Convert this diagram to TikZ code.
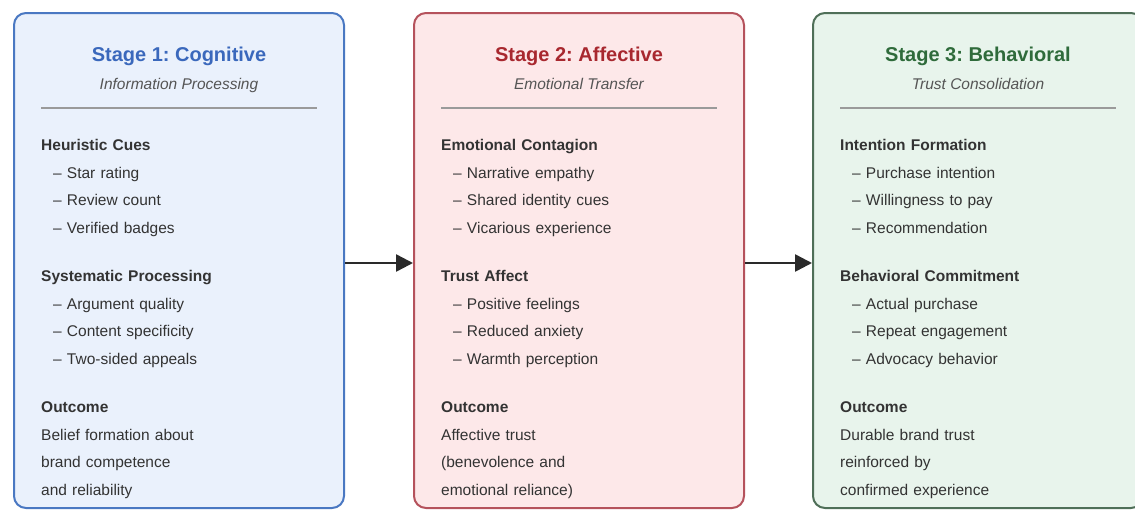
\documentclass[tikz,border=0pt]{standalone}
\usepackage{fontspec}
\setmainfont{Liberation Sans}
\usepackage{tikz}
\usetikzlibrary{arrows.meta,positioning}
\frenchspacing

\definecolor{cogline}{HTML}{4A78C2}
\definecolor{cogfill}{HTML}{EAF1FC}
\definecolor{cogtitle}{HTML}{3A68BC}
\definecolor{affline}{HTML}{B5525C}
\definecolor{afffill}{HTML}{FDE8E9}
\definecolor{afftitle}{HTML}{A8282F}
\definecolor{behline}{HTML}{4F6F58}
\definecolor{behfill}{HTML}{E8F4EC}
\definecolor{behtitle}{HTML}{2F6B3B}
\definecolor{bodygray}{HTML}{333333}
\definecolor{subgray}{HTML}{555555}
\definecolor{rulegray}{HTML}{9A9A9A}
\definecolor{arrowgray}{HTML}{2A2A2A}

\newcommand{\itm}{\hspace*{12pt}– }

\begin{document}
\begin{tikzpicture}[x=1pt, y=-1pt,
>={Triangle[length=17pt,width=17pt]},
boxx/.style={rectangle, rounded corners=12pt, minimum width=330pt, minimum height=495pt, line width=2pt, anchor=north west},
titlee/.style={font=\fontsize{20}{24}\selectfont\bfseries, inner sep=0pt, anchor=base},
subtitlee/.style={font=\fontsize{15.5}{18}\selectfont\itshape, text=subgray, inner sep=0pt, anchor=base},
bodyy/.style={font=\fontsize{15.5}{27.5}\selectfont, text=bodygray, align=left, text width=290pt, inner sep=0pt, anchor=base west},
rulee/.style={draw=rulegray, line width=2pt},
flow/.style={->, line width=2.5pt, draw=arrowgray},
]
  \useasboundingbox[fill=white] (0,0) rectangle (1135,509);

  % the three stage boxes
  \node (cog) [boxx, draw=cogline, fill=cogfill] at (13,12) {};
  \node (aff) [boxx, draw=affline, fill=afffill] at (413,12) {};
  \node (beh) [boxx, draw=behline, fill=behfill] at (812,12) {};

  % headers
  \node (cogTitle) [titlee, text=cogtitle, yshift=-49pt] at (cog.north) {Stage 1: Cognitive};
  \node (cogSub) [subtitlee, yshift=-77pt] at (cog.north) {Information Processing};
  \node (affTitle) [titlee, text=afftitle, yshift=-49pt] at (aff.north) {Stage 2: Affective};
  \node (affSub) [subtitlee, yshift=-77pt] at (aff.north) {Emotional Transfer};
  \node (behTitle) [titlee, text=behtitle, yshift=-49pt] at (beh.north) {Stage 3: Behavioral};
  \node (behSub) [subtitlee, yshift=-77pt] at (beh.north) {Trust Consolidation};

  \foreach \s in {cog,aff,beh}
    \draw[rulee] ([xshift=28pt,yshift=-96pt]\s.north west) -- ([xshift=-28pt,yshift=-96pt]\s.north east);

  % box contents
  \node (cogBody) [bodyy, xshift=28pt, yshift=-138.5pt] at (cog.north west) {%
    \textbf{Heuristic Cues}\\
    \itm Star rating\\
    \itm Review count\\
    \itm Verified badges\\[21pt]
    \textbf{Systematic Processing}\\
    \itm Argument quality\\
    \itm Content specificity\\
    \itm Two-sided appeals\\[21pt]
    \textbf{Outcome}\\
    Belief formation about\\
    brand competence\\
    and reliability};
  \node (affBody) [bodyy, xshift=28pt, yshift=-138.5pt] at (aff.north west) {%
    \textbf{Emotional Contagion}\\
    \itm Narrative empathy\\
    \itm Shared identity cues\\
    \itm Vicarious experience\\[21pt]
    \textbf{Trust Affect}\\
    \itm Positive feelings\\
    \itm Reduced anxiety\\
    \itm Warmth perception\\[21pt]
    \textbf{Outcome}\\
    Affective trust\\
    (benevolence and\\
    emotional reliance)};
  \node (behBody) [bodyy, xshift=28pt, yshift=-138.5pt] at (beh.north west) {%
    \textbf{Intention Formation}\\
    \itm Purchase intention\\
    \itm Willingness to pay\\
    \itm Recommendation\\[21pt]
    \textbf{Behavioral Commitment}\\
    \itm Actual purchase\\
    \itm Repeat engagement\\
    \itm Advocacy behavior\\[21pt]
    \textbf{Outcome}\\
    Durable brand trust\\
    reinforced by\\
    confirmed experience};

  \draw[flow] ([yshift=-2.5pt]cog.east) -- ([yshift=-2.5pt]aff.west);
  \draw[flow] ([yshift=-2.5pt]aff.east) -- ([yshift=-2.5pt]beh.west);
\end{tikzpicture}
\end{document}
